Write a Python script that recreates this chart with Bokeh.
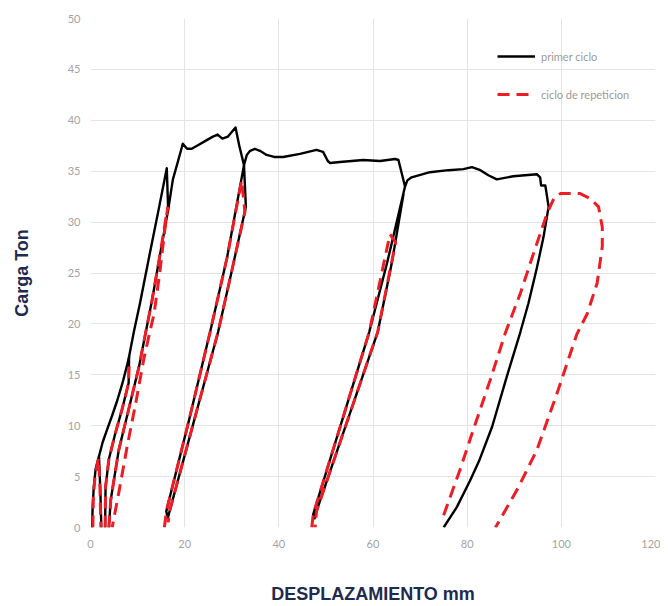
from bokeh.plotting import figure
from bokeh.models import Legend, LegendItem
from bokeh.embed import file_html
from bokeh.resources import INLINE

# ---------------- data ----------------
x_ticks = [0, 20, 40, 60, 80, 100, 120]
y_ticks = [0, 5, 10, 15, 20, 25, 30, 35, 40, 45, 50]

series_names = ["primer ciclo", "ciclo de repeticion"]

# primer ciclo (black) - envelope / main path
p_env_x = [0.35, 0.45, 0.7, 1.1, 1.8, 2.6, 3.5, 4.6, 5.7, 6.8, 7.8, 8.2, 9.2, 10.5, 12.5, 14.5, 16.2, 16.5,
           17.5, 18.6, 19.6, 20.5, 21.5, 23.0, 24.5, 26.0, 27.0, 28.0, 29.2, 30.8, 31.6, 32.6, 33.2, 33.9,
           34.9, 36.0, 37.4, 39.0, 40.9, 44.5, 48.0, 49.4, 50.4, 50.9, 53.0, 57.9, 61.5, 64.7, 65.4, 66.1,
           66.8, 67.3, 68.2, 72.1, 76.0, 79.2, 81.0, 82.8, 84.5, 86.3, 89.8, 94.8, 95.5, 95.7, 96.6, 97.3,
           96.2, 94.8, 93.0, 91.3, 88.4, 85.3, 82.5, 80.6, 77.8, 75.0]
p_env_y = [0.0, 2.0, 4.0, 5.8, 7.0, 8.4, 9.6, 11.0, 12.5, 14.2, 16.0, 16.8, 19.2, 22.0, 26.7, 31.3, 35.3, 31.2,
           34.2, 36.0, 37.7, 37.2, 37.2, 37.6, 38.0, 38.4, 38.6, 38.2, 38.4, 39.3, 37.5, 35.6, 36.6, 37.0,
           37.2, 37.0, 36.6, 36.4, 36.4, 36.7, 37.1, 36.9, 36.0, 35.8, 35.9, 36.1, 36.0, 36.2, 36.1, 34.8,
           33.5, 34.1, 34.4, 34.9, 35.1, 35.2, 35.4, 35.1, 34.6, 34.2, 34.5, 34.7, 34.4, 33.6, 33.6, 31.5,
           28.5, 25.5, 22.0, 19.2, 14.8, 9.9, 6.5, 4.6, 2.0, 0.0]
# primer ciclo - small unloading near origin
p_u1_x = [1.8, 2.1, 2.3]
p_u1_y = [7.0, 3.5, 0.0]
# primer ciclo - unloading from 17 t
p_u2_x = [8.2, 8.1, 6.7, 5.3, 3.9, 3.2, 3.1]
p_u2_y = [16.8, 14.2, 11.6, 9.3, 6.7, 4.0, 0.0]
# primer ciclo - reloading to 31 t
p_r1_x = [3.9, 4.3, 6.0, 8.1, 10.3, 11.4, 13.1, 14.8, 16.5]
p_r1_y = [0.0, 2.7, 7.6, 11.6, 15.8, 18.4, 22.4, 26.9, 31.2]
# primer ciclo - second loop (unload + reload)
p_l2_x = [32.6, 33.0, 30.0, 27.1, 22.0, 16.8, 16.4, 16.1, 20.9, 25.4, 29.0, 32.6]
p_l2_y = [35.6, 31.5, 25.2, 19.2, 10.5, 1.6, 0.9, 1.6, 10.5, 19.2, 26.5, 35.6]
# primer ciclo - third loop
p_l3_x = [66.5, 64.0, 61.0, 54.5, 48.0, 47.6, 47.3, 53.3, 59.2, 63.0, 66.8]
p_l3_y = [32.8, 26.0, 19.2, 10.4, 1.6, 0.9, 1.3, 10.3, 19.2, 26.0, 33.5]

# ciclo de repeticion (red dashed)
r_s1_x = [0.5, 0.6, 1.0, 1.7, 2.0, 2.2]
r_s1_y = [0.0, 3.0, 5.2, 6.8, 4.0, 0.0]
r_s2_x = [3.1, 3.2, 3.9, 5.3, 6.7, 8.1, 8.2]
r_s2_y = [0.0, 4.0, 6.7, 9.3, 11.6, 14.2, 16.0]
r_l1_x = [3.9, 4.3, 6.0, 8.1, 10.3, 11.4, 13.1, 14.8, 16.4, 15.7, 14.7, 13.5, 12.5, 11.3, 9.6, 7.8, 6.0, 4.6]
r_l1_y = [0.0, 2.7, 7.6, 11.6, 15.8, 18.4, 22.4, 26.9, 31.5, 28.9, 25.0, 21.0, 19.0, 16.5, 12.2, 8.0, 3.4, 0.0]
r_l2_x = [15.7, 16.1, 20.9, 25.4, 29.0, 32.1, 32.8, 30.0, 27.1, 22.0, 16.8, 16.5]
r_l2_y = [0.0, 1.6, 10.5, 19.2, 26.5, 34.1, 31.0, 25.2, 19.2, 10.5, 1.6, 0.5]
r_l3_x = [47.0, 47.3, 53.3, 59.2, 63.6, 64.8, 61.0, 54.5, 48.0, 47.7]
r_l3_y = [0.0, 1.3, 10.3, 19.2, 28.8, 28.0, 19.2, 10.4, 1.6, 0.0]
r_l4_x = [75.0, 75.7, 78.5, 81.3, 84.9, 88.1, 91.3, 94.0, 97.0, 98.4, 99.8, 104.0, 106.2, 107.9, 108.7,
          108.7, 107.6, 105.5, 103.3, 99.1, 94.8, 90.6, 86.0]
r_l4_y = [1.2, 2.1, 5.7, 9.6, 14.5, 19.1, 23.0, 26.8, 30.9, 32.3, 32.8, 32.8, 32.3, 31.5, 29.5,
          27.6, 24.0, 21.0, 19.0, 13.2, 7.6, 3.7, 0.0]

black_xs = [p_env_x, p_u1_x, p_u2_x, p_r1_x, p_l2_x, p_l3_x]
black_ys = [p_env_y, p_u1_y, p_u2_y, p_r1_y, p_l2_y, p_l3_y]
red_xs = [r_s1_x, r_s2_x, r_l1_x, r_l2_x, r_l3_x, r_l4_x]
red_ys = [r_s1_y, r_s2_y, r_l1_y, r_l2_y, r_l3_y, r_l4_y]

# ---------------- figure ----------------
p = figure(width=660, height=606, x_range=(0, 120), y_range=(0, 50),
           output_backend="svg", toolbar_location=None,
           min_border_left=90, min_border_right=5, min_border_top=18, min_border_bottom=78)
p.outline_line_color = None
p.background_fill_color = "white"
p.border_fill_color = "white"

blk = p.multi_line(black_xs, black_ys, line_color="black", line_width=2.4, line_join="round")
red = p.multi_line(red_xs, red_ys, line_color="#ee1c25", line_width=3, line_dash="12 7")

for ax in (p.xaxis[0], p.yaxis[0]):
    ax.axis_line_color = None
    ax.major_tick_line_color = None
    ax.minor_tick_line_color = None
    ax.major_tick_out = 0
    ax.major_tick_in = 0
    ax.major_label_text_color = "#a3a3a3"
    ax.major_label_text_font = "Lato"
    ax.major_label_text_font_size = "11px"
    ax.axis_label_text_font = "Liberation Sans"
    ax.axis_label_text_font_style = "bold"
    ax.axis_label_text_color = "#1d2b4f"
    ax.axis_label_text_font_size = "18px"

p.xaxis.ticker = x_ticks
p.yaxis.ticker = y_ticks
p.xaxis.axis_label = "DESPLAZAMIENTO mm"
p.yaxis.axis_label = "Carga Ton"
p.yaxis.major_label_standoff = 10
p.xaxis.major_label_standoff = 12
p.yaxis.axis_label_standoff = 33
p.xaxis.axis_label_standoff = 33

p.xgrid.ticker = x_ticks
p.ygrid.ticker = y_ticks
p.xgrid.grid_line_color = "#e4e4e4"
p.ygrid.grid_line_color = "#e4e4e4"

legend = Legend(items=[LegendItem(label=series_names[0], renderers=[blk]),
                       LegendItem(label=series_names[1], renderers=[red])],
                location=(407, 423), orientation="vertical",
                glyph_width=38, glyph_height=20, label_height=20, spacing=18,
                label_standoff=6, padding=0, margin=0,
                border_line_color=None, background_fill_alpha=0,
                label_text_font="Lato", label_text_font_size="11px",
                label_text_color="#9a9a9a")
p.add_layout(legend)

open("out.html", "w").write(file_html(p, INLINE))
